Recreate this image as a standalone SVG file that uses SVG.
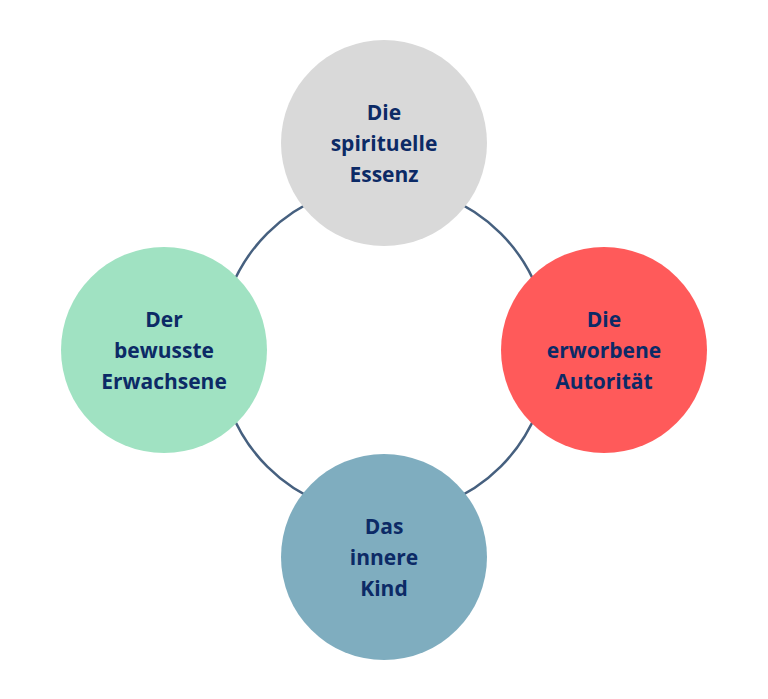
<svg xmlns="http://www.w3.org/2000/svg" width="768" height="699" viewBox="0 0 768 699">
  <style>
    .node { stroke: none; }
    .label { font-family: "Open Sans", "Noto Sans", "Liberation Sans", sans-serif; font-weight: 700; font-size: 21px; fill: #0C2A66; text-anchor: middle; }
    .ring { fill: none; stroke: #46607F; stroke-width: 2.5; }
  </style>
  <rect width="768" height="699" fill="#FFFFFF"/>
  <g id="connectors">
    <circle class="ring" cx="384" cy="350" r="165"/>
  </g>
  <g id="node-top">
    <circle class="node" cx="384" cy="143" r="103" fill="#D9D9D9"/>
    <text class="label" x="384" y="120">Die</text>
    <text class="label" x="384" y="151">spirituelle</text>
    <text class="label" x="384" y="182">Essenz</text>
  </g>
  <g id="node-right">
    <circle class="node" cx="604" cy="350" r="103" fill="#FF5A5A"/>
    <text class="label" x="604" y="327">Die</text>
    <text class="label" x="604" y="358">erworbene</text>
    <text class="label" x="604" y="389">Autorität</text>
  </g>
  <g id="node-bottom">
    <circle class="node" cx="384" cy="557" r="103" fill="#7FADBF"/>
    <text class="label" x="384" y="534">Das</text>
    <text class="label" x="384" y="565">innere</text>
    <text class="label" x="384" y="596">Kind</text>
  </g>
  <g id="node-left">
    <circle class="node" cx="164" cy="350" r="103" fill="#A0E2C2"/>
    <text class="label" x="164" y="327">Der</text>
    <text class="label" x="164" y="358">bewusste</text>
    <text class="label" x="164" y="389">Erwachsene</text>
  </g>
</svg>
